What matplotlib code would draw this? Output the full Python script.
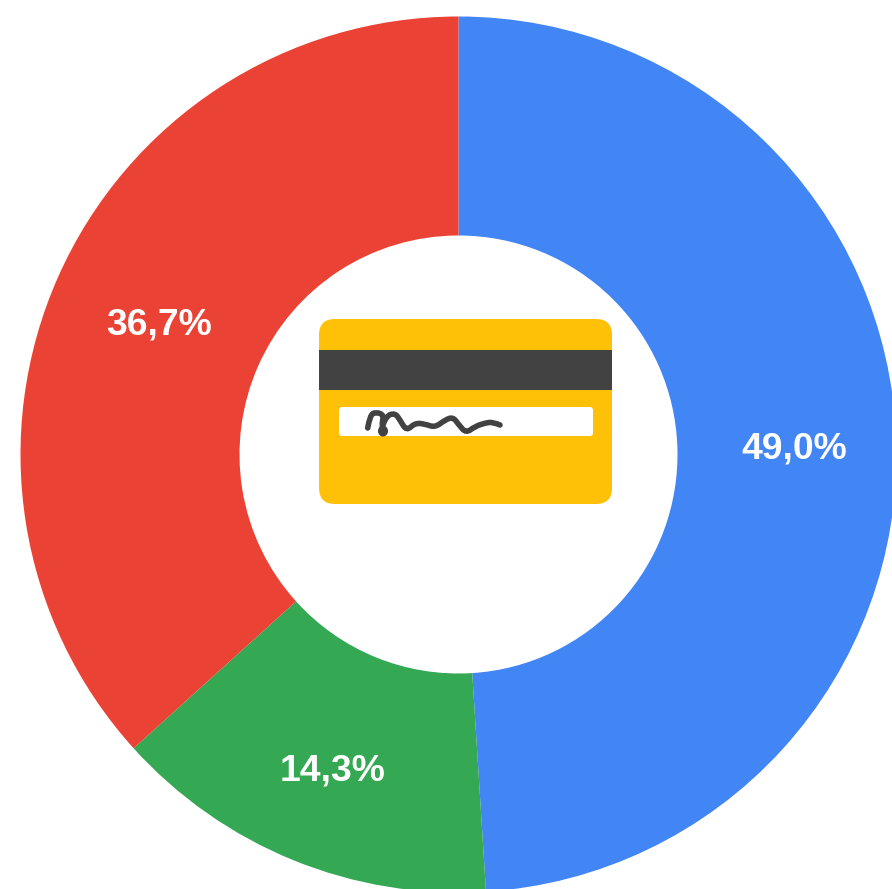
import matplotlib
matplotlib.use("Agg")
import matplotlib.pyplot as plt
from matplotlib.patches import FancyBboxPatch, Rectangle, PathPatch, Ellipse
from matplotlib.path import Path

values = [49.0, 14.3, 36.7]
labels = ["49,0%", "14,3%", "36,7%"]
colors = ["#4285F4", "#34A853", "#EA4335"]

W, H = 892, 889
fig = plt.figure(figsize=(W/100, H/100), dpi=100)
ax = fig.add_axes([0, 0, 1, 1])

cx, cy, R = 458.5, 454.5, 438
ax.pie(values, colors=colors, startangle=-90, counterclock=True,
       center=(cx, cy), radius=R, frame=True,
       wedgeprops=dict(width=R-219, linewidth=0))
ax.set_xlim(0, W)
ax.set_ylim(H, 0)
ax.set_aspect("equal")
ax.axis("off")

label_xy = [(794.5, 448.5), (333, 771.5), (159, 325.5)]
for (x, y), t in zip(label_xy, labels):
    ax.text(x, y, t, color="white", fontsize=26.8, fontweight="bold",
            family="Liberation Sans", ha="center", va="center")

# card icon
ax.add_patch(FancyBboxPatch((319, 319), 293, 185, boxstyle="round,pad=0,rounding_size=16",
                            fc="#FFC107", lw=0))
ax.add_patch(Rectangle((319, 350), 293, 39.5, fc="#424242", lw=0))
ax.add_patch(FancyBboxPatch((339, 407), 254, 29, boxstyle="round,pad=0,rounding_size=3",
                            fc="white", lw=0))

def smooth(pts):
    verts = [pts[0]]
    codes = [Path.MOVETO]
    for i in range(1, len(pts) - 1):
        end = pts[i + 1] if i == len(pts) - 2 else ((pts[i][0] + pts[i+1][0]) / 2, (pts[i][1] + pts[i+1][1]) / 2)
        verts += [pts[i], end]
        codes += [Path.CURVE3, Path.CURVE3]
    return Path(verts, codes)

sig1 = [(367.7, 428), (370, 415), (376, 412), (384, 415), (381.5, 425), (383, 433)]
sig2 = [(383, 425), (386, 416), (395, 413), (400, 420), (406.5, 431), (415, 423),
        (425, 424), (435, 427.5), (445, 420), (453, 417), (459, 425), (466, 433),
        (475, 426.5), (485, 423), (493, 422), (500, 425)]
for s in (sig1, sig2):
    ax.add_patch(PathPatch(smooth(s), fc="none", ec="#424242", lw=4, capstyle="round"))
ax.add_patch(Ellipse((383, 431), 10, 11, fc="#424242", lw=0))

fig.savefig("out.png", dpi=100)
